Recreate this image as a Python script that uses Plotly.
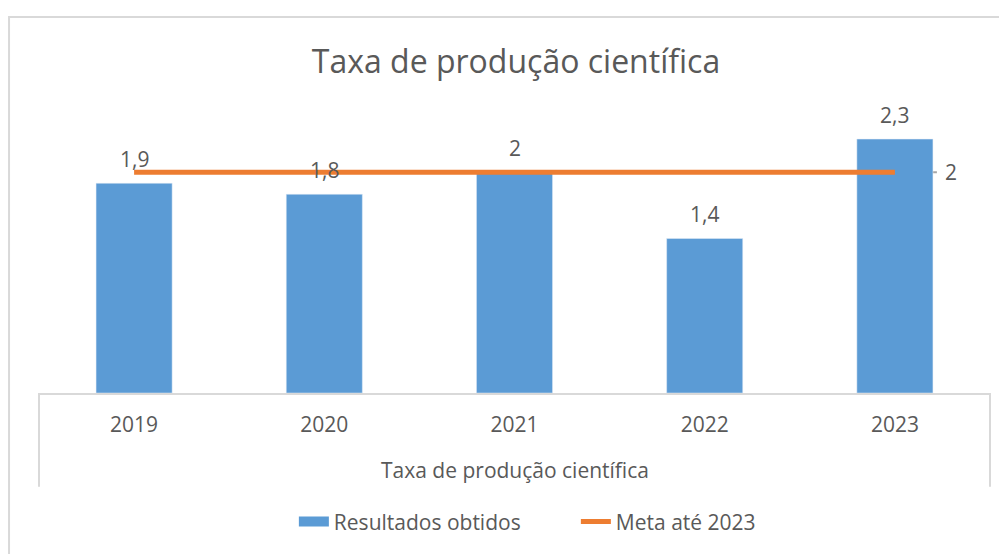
import plotly.graph_objects as go

anos = [2019, 2020, 2021, 2022, 2023]
resultados = [1.9, 1.8, 2.0, 1.4, 2.3]
meta = [2, 2, 2, 2, 2]

titulo = "Taxa de produção científica"
eixo_titulo = "Taxa de produção científica"
nome_barras = "Resultados obtidos"
nome_linha = "Meta até 2023"

AZUL = "#5B9BD5"
LARANJA = "#ED7D31"
TEXTO = "#595959"
FONT = "Open Sans"

fig = go.Figure()
fig.add_trace(go.Bar(x=anos, y=resultados, name=nome_barras, marker_color=AZUL,
                     width=0.4, hoverinfo="skip", showlegend=False, legendgroup="b"))
# legend entry for bars drawn as a wide rectangle (Excel style)
fig.add_trace(go.Scatter(x=[None], y=[None], name=nome_barras, mode="lines",
                         line=dict(color=AZUL, width=13), legendgroup="b", hoverinfo="skip"))
fig.add_trace(go.Scatter(x=anos, y=meta, name=nome_linha, mode="lines",
                         line=dict(color=LARANJA, width=5), hoverinfo="skip"))

def fmt(v):
    return ("%g" % v).replace(".", ",")

for a, v in zip(anos, resultados):
    fig.add_annotation(x=a, y=v, text=fmt(v), showarrow=False, yshift=24,
                       yanchor="middle", font=dict(size=21, color=TEXTO, family=FONT))

# meta label with leader line
fig.add_annotation(x=anos[-1], y=meta[-1], text=fmt(meta[-1]), showarrow=False,
                   xshift=56, yanchor="middle", font=dict(size=21, color=TEXTO, family=FONT))
fig.add_shape(type="line", xref="x", yref="y", xsizemode="pixel", xanchor=anos[-1],
              x0=2, x1=42, y0=meta[-1], y1=meta[-1], line=dict(color="#A6A6A6", width=2),
              layer="below")

# category axis box
fig.add_shape(type="line", xref="paper", yref="paper", x0=0, x1=0, y0=0, y1=-0.34,
              line=dict(color="#D9D9D9", width=2))
fig.add_shape(type="line", xref="paper", yref="paper", x0=1, x1=1, y0=0, y1=-0.34,
              line=dict(color="#D9D9D9", width=2))
# chart border
fig.add_shape(type="rect", xref="paper", yref="paper", x0=-0.0315, x1=1.1, y0=-0.8, y1=1.362,
              line=dict(color="#D9D9D9", width=2), fillcolor="rgba(0,0,0,0)", layer="below")

fig.add_annotation(xref="paper", yref="paper", x=0.5, y=-0.279, text=eixo_titulo,
                   showarrow=False, yanchor="middle", font=dict(size=21, color=TEXTO, family=FONT))

fig.update_layout(
    width=1007, height=554,
    margin=dict(l=31, r=25, t=109, b=169),
    paper_bgcolor="white", plot_bgcolor="white",
    title=dict(text=titulo, x=508 / 1007, xanchor="center", y=1 - 54 / 554, yanchor="middle",
               font=dict(size=32, color=TEXTO, family=FONT)),
    font=dict(family=FONT, color=TEXTO),
    showlegend=True,
    legend=dict(orientation="h", x=0.268, xanchor="left", y=-0.467, yanchor="middle",
                entrywidth=237, entrywidthmode="pixels",
                font=dict(size=21, color=TEXTO, family=FONT), traceorder="normal"),
    xaxis=dict(range=[anos[0] - 0.5, anos[-1] + 0.5], tickvals=anos, tickformat="d",
               showline=True, linecolor="#D9D9D9", linewidth=2, ticks="",
               showgrid=False, zeroline=False, tickfont=dict(size=21, color=TEXTO, family=FONT),
               ticklabelstandoff=12, fixedrange=True),
    yaxis=dict(range=[0, 2.5], visible=False, showgrid=False, fixedrange=True),
)

fig.write_html("out.html")
